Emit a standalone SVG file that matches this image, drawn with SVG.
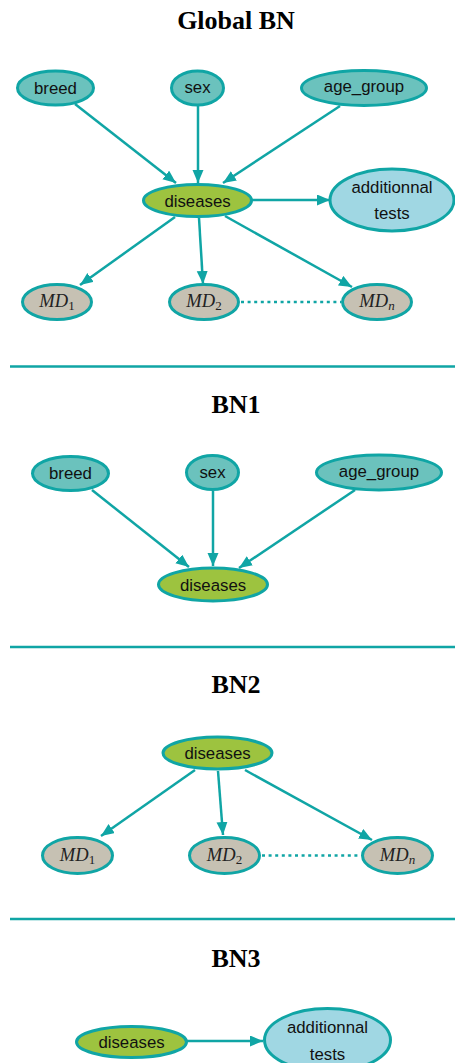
<svg xmlns="http://www.w3.org/2000/svg" width="455" height="1063" viewBox="0 0 455 1063">
<style>
.title{font-family:"Liberation Serif","Times New Roman",serif;font-weight:bold;font-size:26px;text-anchor:middle;fill:#000}
.lbl{font-family:"Liberation Sans",Arial,sans-serif;font-size:16.8px;text-anchor:middle;fill:#111}
.md{font-family:"Liberation Serif","Times New Roman",serif;font-style:italic;font-size:18.5px;text-anchor:middle;fill:#222}
.sub{font-style:normal;font-size:13px}
.subi{font-size:13px}
.par{fill:#6bc2bd;stroke:#10a5a5;stroke-width:3}
.dis{fill:#9dc33f;stroke:#10a5a5;stroke-width:3}
.mdn{fill:#c6c1b3;stroke:#10a5a5;stroke-width:3}
.add{fill:#a0d7e3;stroke:#10a5a5;stroke-width:3}
.edge{stroke:#10a5a5;stroke-width:2.5;fill:none;marker-end:url(#arr)}
.dot{stroke:#10a5a5;stroke-width:2.5;fill:none;stroke-dasharray:3 3.6}
.sep{stroke:#10a5a5;stroke-width:2.5}
</style>
<defs>
<marker id="arr" markerUnits="userSpaceOnUse" markerWidth="15" markerHeight="12" refX="13" refY="5.5" orient="auto">
<path d="M0,0 L13,5.5 L0,11 Z" fill="#10a5a5"/>
</marker>
</defs>

<text class="title" x="236" y="29">Global BN</text>
<text class="title" x="236" y="413">BN1</text>
<text class="title" x="236" y="693">BN2</text>
<text class="title" x="236" y="967">BN3</text>

<g id="separators">
<line class="sep" x1="10" y1="366.5" x2="455" y2="366.5"/>
<line class="sep" x1="10" y1="647" x2="455" y2="647"/>
<line class="sep" x1="10" y1="919" x2="455" y2="919"/>
</g>

<g id="connectors">
<line class="edge" x1="75" y1="104" x2="176" y2="183"/>
<line class="edge" x1="198" y1="106" x2="198" y2="183"/>
<line class="edge" x1="340" y1="106" x2="223" y2="183"/>
<line class="edge" x1="252" y1="200" x2="330" y2="200"/>
<line class="edge" x1="175" y1="217" x2="80" y2="285"/>
<line class="edge" x1="199" y1="218" x2="203" y2="284"/>
<line class="edge" x1="225" y1="216" x2="352" y2="287"/>
<line class="dot" x1="241" y1="302" x2="341" y2="302"/>

<line class="edge" x1="92" y1="490" x2="189" y2="567"/>
<line class="edge" x1="213" y1="491" x2="213" y2="566"/>
<line class="edge" x1="355" y1="490" x2="239" y2="568"/>

<line class="edge" x1="195" y1="770" x2="101" y2="836"/>
<line class="edge" x1="218" y1="771" x2="223" y2="835"/>
<line class="edge" x1="245" y1="770" x2="372" y2="840"/>
<line class="dot" x1="262" y1="855.5" x2="361" y2="855.5"/>

<line class="edge" x1="187" y1="1041" x2="263" y2="1041"/>
</g>

<g id="g_breed"><ellipse class="par" cx="55.5" cy="88" rx="38" ry="17"/><text class="lbl" x="55.5" y="94">breed</text></g>
<g id="g_sex"><ellipse class="par" cx="197.5" cy="88" rx="26" ry="17"/><text class="lbl" x="197.5" y="93">sex</text></g>
<g id="g_age"><ellipse class="par" cx="364" cy="88" rx="62.5" ry="17.5"/><text class="lbl" x="364" y="92">age_group</text></g>
<g id="g_diseases"><ellipse class="dis" cx="197.5" cy="200.5" rx="54" ry="16"/><text class="lbl" x="197.5" y="206.5">diseases</text></g>
<g id="g_add"><ellipse class="add" cx="392" cy="200" rx="62" ry="31"/><text class="lbl" x="392" y="193">additionnal</text><text class="lbl" x="392" y="219">tests</text></g>
<g id="g_md1"><ellipse class="mdn" cx="57" cy="302" rx="34.5" ry="17.5"/><text class="md" x="57" y="307">MD<tspan class="sub" dy="3">1</tspan></text></g>
<g id="g_md2"><ellipse class="mdn" cx="204" cy="302" rx="34.5" ry="17.5"/><text class="md" x="204" y="307">MD<tspan class="sub" dy="3">2</tspan></text></g>
<g id="g_mdn"><ellipse class="mdn" cx="377" cy="302" rx="34.5" ry="17.5"/><text class="md" x="377" y="307">MD<tspan class="subi" dy="3">n</tspan></text></g>

<g id="bn1_breed"><ellipse class="par" cx="70.5" cy="473.5" rx="38" ry="17"/><text class="lbl" x="70.5" y="479">breed</text></g>
<g id="bn1_sex"><ellipse class="par" cx="212.5" cy="472.5" rx="26" ry="17"/><text class="lbl" x="212.5" y="478">sex</text></g>
<g id="bn1_age"><ellipse class="par" cx="379" cy="472.5" rx="62.5" ry="17.5"/><text class="lbl" x="379" y="477">age_group</text></g>
<g id="bn1_diseases"><ellipse class="dis" cx="213" cy="584.5" rx="54.5" ry="16.5"/><text class="lbl" x="213" y="590.5">diseases</text></g>

<g id="bn2_diseases"><ellipse class="dis" cx="217.5" cy="753" rx="54.5" ry="16"/><text class="lbl" x="217.5" y="759">diseases</text></g>
<g id="bn2_md1"><ellipse class="mdn" cx="77.5" cy="855.5" rx="35" ry="18"/><text class="md" x="77.5" y="860.5">MD<tspan class="sub" dy="3">1</tspan></text></g>
<g id="bn2_md2"><ellipse class="mdn" cx="224.5" cy="855.5" rx="35" ry="18"/><text class="md" x="224.5" y="860.5">MD<tspan class="sub" dy="3">2</tspan></text></g>
<g id="bn2_mdn"><ellipse class="mdn" cx="397.5" cy="855.5" rx="35" ry="18"/><text class="md" x="397.5" y="860.5">MD<tspan class="subi" dy="3">n</tspan></text></g>

<g id="bn3_diseases"><ellipse class="dis" cx="131.5" cy="1042" rx="55" ry="15.5"/><text class="lbl" x="131.5" y="1047.5">diseases</text></g>
<g id="bn3_add"><ellipse class="add" cx="327.5" cy="1040" rx="63" ry="31.5"/><text class="lbl" x="327.5" y="1033">additionnal</text><text class="lbl" x="327.5" y="1060">tests</text></g>
</svg>
